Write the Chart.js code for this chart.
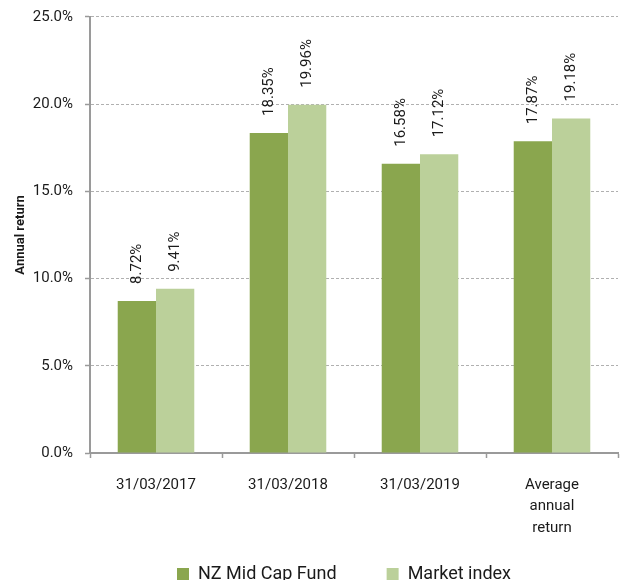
<!DOCTYPE html>
<html>
<head>
<meta charset="utf-8">
<script src="https://cdn.jsdelivr.net/npm/chart.js@4.4.0/dist/chart.umd.min.js"></script>
<style>
  html, body { margin: 0; padding: 0; background: #fff; }
  #wrap { width: 628px; height: 580px; }
</style>
</head>
<body>
<div id="wrap"><canvas id="returnsChart" width="628" height="580"></canvas></div>
<script>
// Chart data
const categories = ['31/03/2017', '31/03/2018', '31/03/2019', ['Average', 'annual', 'return']];
const fundReturns = [8.72, 18.35, 16.58, 17.87];
const indexReturns = [9.41, 19.96, 17.12, 19.18];
const seriesNames = ['NZ Mid Cap Fund', 'Market index'];

const darkGreen = '#8aa64e';
const lightGreen = '#bbd09a';
const axisGrey = '#9a9a9a';

// Rotated value labels above each bar
const barLabels = {
    id: 'barLabels',
    afterDatasetsDraw(chart) {
        const ctx = chart.ctx;
        ctx.save();
        ctx.font = '15px Roboto';
        ctx.fillStyle = '#1a1a1a';
        ctx.textAlign = 'left';
        ctx.textBaseline = 'middle';
        chart.data.datasets.forEach((ds, i) => {
            chart.getDatasetMeta(i).data.forEach((bar, j) => {
                ctx.save();
                ctx.translate(bar.x, bar.y - 17);
                ctx.rotate(-Math.PI / 2);
                ctx.fillText(ds.data[j].toFixed(2) + '%', 0, 0);
                ctx.restore();
            });
        });
        ctx.restore();
    }
};

// Shift the legend to line up under the plot, and let the x labels
// run down past the (short) x scale box so the third line isn't clipped
const layoutTweaks = {
    id: 'layoutTweaks',
    afterLayout(chart) {
        chart.legend.left += 35;
        chart.legend.right += 35;
        chart.scales.x.bottom = chart.height;
    }
};

const ctx = document.getElementById('returnsChart').getContext('2d');
new Chart(ctx, {
    type: 'bar',
    data: {
        labels: categories,
        datasets: [
            { label: seriesNames[0], data: fundReturns, backgroundColor: darkGreen },
            { label: seriesNames[1], data: indexReturns, backgroundColor: lightGreen }
        ]
    },
    options: {
        responsive: false,
        animation: false,
        layout: { padding: { top: 4, right: 10, bottom: -13, left: 0 } },
        datasets: {
            bar: { categoryPercentage: 0.58, barPercentage: 1.0 }
        },
        plugins: {
            legend: {
                position: 'bottom',
                labels: {
                    font: { family: 'Roboto', size: 18 },
                    color: '#1a1a1a',
                    boxWidth: 12,
                    boxHeight: 12,
                    padding: 50
                }
            },
            tooltip: { enabled: false }
        },
        scales: {
            x: {
                grid: {
                    drawOnChartArea: false,
                    tickLength: 5,
                    tickColor: axisGrey,
                    tickWidth: 1.5
                },
                border: { color: axisGrey, width: 2 },
                ticks: {
                    font: { family: 'Roboto', size: 15, lineHeight: 1.45 },
                    color: '#1a1a1a',
                    padding: 16,
                    maxRotation: 0
                },
                afterFit(scale) { scale.height = 62; }
            },
            y: {
                min: 0,
                max: 25,
                ticks: {
                    stepSize: 5,
                    // small lineHeight only trims the top padding; labels are single line
                    font: { family: 'Roboto', size: 15, lineHeight: 0.65 },
                    color: '#1a1a1a',
                    padding: 12,
                    callback: v => v.toFixed(1) + '%'
                },
                grid: {
                    color: '#b0b0b0',
                    lineWidth: 1,
                    tickLength: 5,
                    tickColor: axisGrey,
                    tickWidth: 1.5,
                    tickBorderDash: []
                },
                border: { color: axisGrey, width: 2, dash: [3, 2] },
                title: {
                    display: true,
                    text: 'Annual return',
                    font: { family: 'Roboto', size: 13, weight: 'bold' },
                    color: '#1a1a1a',
                    padding: { top: 13, bottom: 0 }
                },
                afterFit(scale) { scale.width = 90; }
            }
        }
    },
    plugins: [barLabels, layoutTweaks]
});
</script>
</body>
</html>
